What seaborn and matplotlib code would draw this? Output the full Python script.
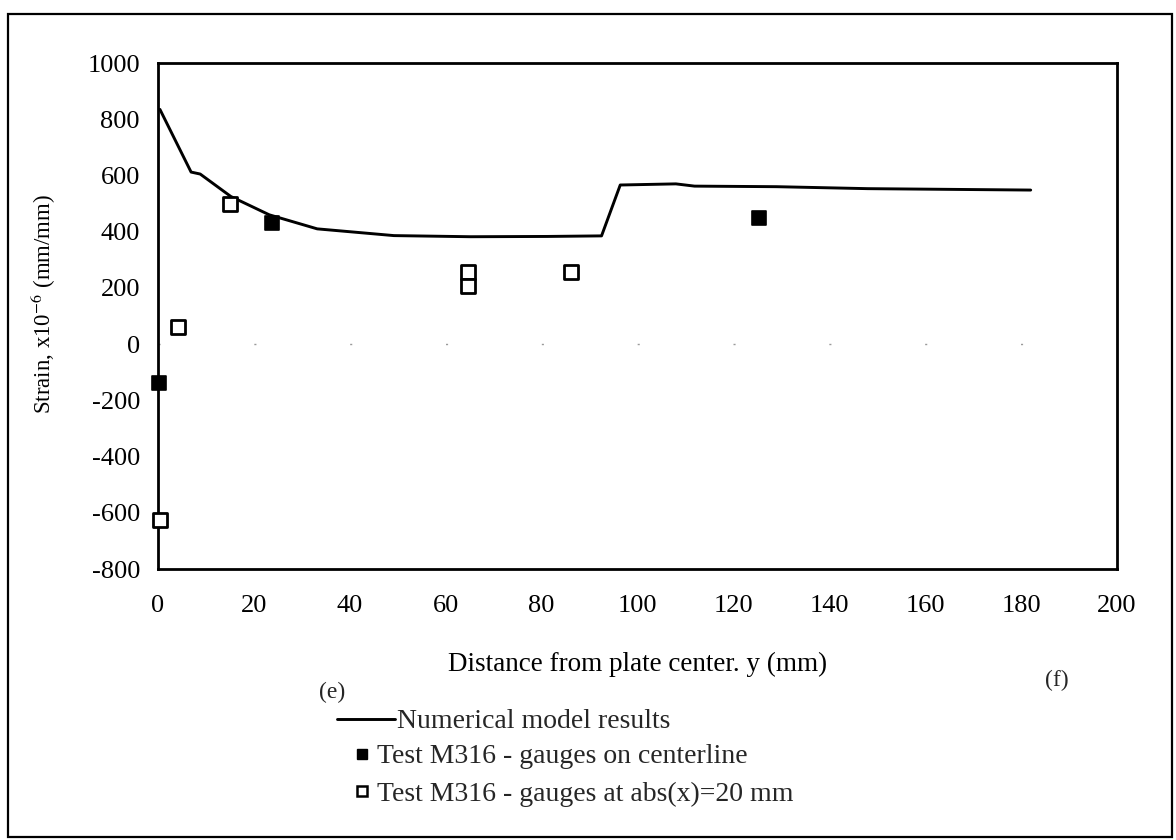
import matplotlib
matplotlib.use("Agg")
import matplotlib.pyplot as plt
from matplotlib.lines import Line2D
from matplotlib.patches import Rectangle
import seaborn as sns
import pandas as pd

# numerical model curve (y in mm, strain in 1e-6)
model_y = [0.4, 6.9, 8.8, 15.2, 23.2, 33.2, 49.2, 65.2, 81.2, 92.5, 96.4, 108, 111.9, 129, 148, 182]
model_strain = [835, 612, 605, 525, 460, 410, 386, 382, 383, 385, 566, 570, 562, 560, 553, 548]

# test M316, gauges on centerline
center_y = [0.3, 23.8, 125.3]
center_strain = [-140, 430, 450]

# test M316, gauges at abs(x)=20 mm
offset_y = [0.4, 4.1, 15.0, 64.6, 64.6, 86.2]
offset_strain = [-625, 62, 499, 258, 208, 258]

x_ticks = list(range(0, 201, 20))
y_ticks = list(range(-800, 1001, 200))

sns.set_theme(style="white")
plt.rcParams["font.family"] = ["Liberation Serif", "DejaVu Serif"]
plt.rcParams["mathtext.fontset"] = "stix"
plt.rcParams["axes.unicode_minus"] = False

W, H = 1176, 840
fig = plt.figure(figsize=(W / 100, H / 100), dpi=100)
ax = fig.add_axes([158 / W, 1 - 569 / H, (1117 - 158) / W, (569 - 63) / H])

model_df = pd.DataFrame({"y": model_y, "strain": model_strain})
center_df = pd.DataFrame({"y": center_y, "strain": center_strain})
offset_df = pd.DataFrame({"y": offset_y, "strain": offset_strain})

ax.axhline(0, color="#9a9a9a", lw=1, linestyle=(0, (1.5, 67.5)), zorder=1)
sns.lineplot(data=model_df, x="y", y="strain", color="black", lw=2.1,
             sort=False, estimator=None, ax=ax, zorder=3)
sns.scatterplot(data=center_df, x="y", y="strain", marker="s", s=100,
                color="black", edgecolor="black", linewidth=1.2, ax=ax, zorder=4, clip_on=False)
sns.scatterplot(data=offset_df, x="y", y="strain", marker="s", s=90,
                facecolor="white", edgecolor="black", linewidth=2.0, ax=ax, zorder=4, clip_on=False)

ax.set_xlim(0, 200)
ax.set_ylim(-800, 1000)
ax.set_xticks(x_ticks)
ax.set_yticks(y_ticks)
ax.tick_params(axis="both", length=0, labelsize=19, colors="black")
ax.tick_params(axis="x", pad=19)
ax.tick_params(axis="y", pad=13)
for sp in ax.spines.values():
    sp.set_color("black")
    sp.set_linewidth(2.0)

ax.set_xlabel("Distance from plate center. y (mm)", fontsize=19.5, color="black")
ax.xaxis.set_label_coords(0.5, -0.164)
ax.set_ylabel("Strain, x10$^{-6}$ (mm/mm)", fontsize=16.5, color="black")
ax.yaxis.set_label_coords(-0.104, 0.524)

fig.text(332 / W, 1 - 692 / H, "(e)", fontsize=17, ha="center", va="center")
fig.text(1057 / W, 1 - 680 / H, "(f)", fontsize=17, ha="center", va="center")

# legend: line entry and marker entries are indented differently in the original
line_handle = [Line2D([], [], color="black", lw=2.1)]
fig.legend(line_handle, ["Numerical model results"], loc="upper left",
           bbox_to_anchor=(337 / W, 1 - 709 / H), frameon=False, fontsize=20,
           handlelength=2.09, handletextpad=0.07, borderpad=0, borderaxespad=0)

marker_handles = [
    Line2D([], [], color="black", marker="s", markersize=7.5, linestyle="none"),
    Line2D([], [], color="black", marker="s", markersize=7, markerfacecolor="white",
           markeredgewidth=1.8, linestyle="none"),
]
fig.legend(marker_handles,
           ["Test M316 - gauges on centerline", "Test M316 - gauges at abs(x)=20 mm"],
           loc="upper left", bbox_to_anchor=(351 / W, 1 - 744 / H), frameon=False,
           fontsize=20, handlelength=0.8, handletextpad=0.14, borderpad=0,
           borderaxespad=0, labelspacing=0.42)

fig.patches.append(Rectangle((8 / W, 3 / H), 1164 / W, 823 / H,
                             transform=fig.transFigure, fill=False,
                             edgecolor="black", lw=1.6))

fig.savefig("out.png", dpi=100)
